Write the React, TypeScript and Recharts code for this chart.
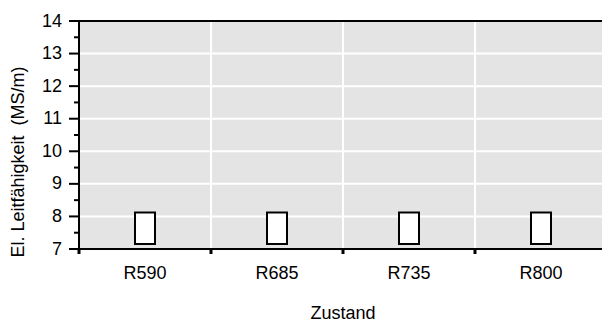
import React from "react";
import {
  BarChart,
  Bar,
  XAxis,
  YAxis,
  CartesianGrid,
  ReferenceLine,
} from "recharts";

const zustand = ["R590", "R685", "R735", "R800"];
const unten = [7.15, 7.15, 7.15, 7.15];
const oben = [8.12, 8.12, 8.12, 8.12];

const yTicks = [7, 7.5, 8, 8.5, 9, 9.5, 10, 10.5, 11, 11.5, 12, 12.5, 13, 13.5, 14];
const yGrid = [8, 9, 10, 11, 12, 13];

const CHART_W = 607;
const CHART_H = 324;
const Y_W = 79;
const PLOT_W = CHART_W - Y_W;
const BAND = PLOT_W / zustand.length;

const FONT = "'Liberation Sans', Arial, sans-serif";

const data = zustand.map((z, i) => ({
  zustand: z,
  range: [unten[i], oben[i]],
}));

const XTick = ({ x, y, payload }: any) => (
  <g>
    <line
      x1={x - BAND / 2}
      x2={x - BAND / 2}
      y1={y}
      y2={y + 5}
      stroke="#000"
      strokeWidth={3}
    />
    <text
      x={x}
      y={y + 30}
      textAnchor="middle"
      fontSize={18}
      fontFamily={FONT}
      fill="#000"
    >
      {payload.value}
    </text>
  </g>
);

const YTick = ({ x, y, payload }: any) => {
  const v = payload.value;
  const major = Number.isInteger(v);
  return (
    <g>
      <line
        x1={x - (major ? 10 : 5)}
        x2={x}
        y1={y}
        y2={y}
        stroke="#000"
        strokeWidth={2}
      />
      {major && (
        <text
          x={x - 17}
          y={y}
          dy={5.5}
          textAnchor="end"
          fontSize={18}
          fontFamily={FONT}
          fill="#000"
        >
          {v}
        </text>
      )}
    </g>
  );
};

// Achsentitel etwas unterhalb der Plotmitte, wie im Original
const YLabel = ({ viewBox }: any) => {
  const cy = viewBox.y + viewBox.height / 2 + 27;
  return (
    <text
      x={24}
      y={cy}
      transform={`rotate(-90, 24, ${cy})`}
      textAnchor="middle"
      fontSize={18}
      fontFamily={FONT}
      fill="#000"
      style={{ whiteSpace: "pre" }}
    >
      {"El. Leitfähigkeit  (MS/m)"}
    </text>
  );
};

export default function App() {
  return (
    <div
      style={{
        position: "absolute",
        left: 0,
        top: 0,
        width: 602,
        height: 324,
        overflow: "hidden",
        background: "#fff",
      }}
    >
      <BarChart
        width={CHART_W}
        height={CHART_H}
        data={data}
        margin={{ top: 21, right: 0, left: 0, bottom: 0 }}
      >
        <CartesianGrid
          fill="#e4e4e4"
          stroke="#fff"
          strokeWidth={2}
          horizontalValues={yGrid}
          verticalCoordinatesGenerator={({ offset }: any) =>
            zustand
              .slice(1)
              .map((_, i) => offset.left + ((i + 1) * offset.width) / zustand.length)
          }
        />

        <XAxis
          dataKey="zustand"
          height={CHART_H - 249}
          interval={0}
          tickLine={false}
          tickSize={0}
          tickMargin={0}
          tick={<XTick />}
          axisLine={{ stroke: "#000", strokeWidth: 2 }}
          label={{
            value: "Zustand",
            position: "insideBottom",
            offset: 5,
            fontSize: 18,
            fontFamily: FONT,
            fill: "#000",
          }}
        />

        <YAxis
          type="number"
          domain={[7, 14]}
          ticks={yTicks}
          interval={0}
          width={Y_W}
          tickLine={false}
          tickSize={0}
          tickMargin={0}
          tick={<YTick />}
          axisLine={{ stroke: "#000", strokeWidth: 2 }}
          label={<YLabel />}
        />

        <ReferenceLine y={14} stroke="#000" strokeWidth={2} />

        <Bar
          dataKey="range"
          barSize={20}
          fill="#fff"
          stroke="#000"
          strokeWidth={2}
          isAnimationActive={false}
        />
      </BarChart>
    </div>
  );
}
